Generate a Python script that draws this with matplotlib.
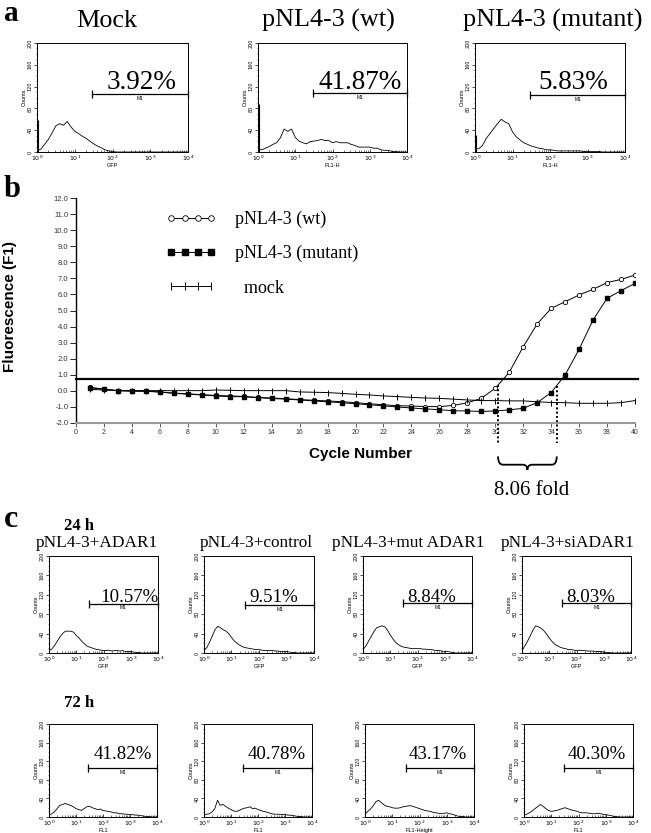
import numpy as np
import matplotlib
matplotlib.use("Agg")
import matplotlib.pyplot as plt
from matplotlib.path import Path
from matplotlib.patches import PathPatch
from matplotlib.ticker import LogLocator, MultipleLocator, NullFormatter, FixedLocator

# ---------------- DATA ----------------
# flow cytometry histograms: counts at channel positions 10^0 .. 10^4 (0.1 decade steps)
hist_log_channel = np.linspace(0, 4, 41)

a_mock = [3, 5, 14, 23, 35, 48, 52, 49, 56, 46, 38, 34, 29, 25, 20, 15, 11, 8, 4, 2, 1,
          0, 0, 0, 0, 0, 0, 0, 0, 0, 0, 0, 0, 0, 0, 0, 0, 0, 0, 0, 0]
a_wt = [5, 4, 7, 10, 14, 17, 26, 42, 38, 42, 27, 20, 17, 15, 19, 20, 21, 23, 21, 21, 17,
        19, 17, 17, 17, 14, 12, 9, 9, 9, 9, 7, 7, 4, 3, 3, 1, 1, 0, 0, 0]
a_mut = [6, 6, 12, 25, 34, 43, 52, 60, 55, 52, 37, 28, 22, 17, 14, 11, 9, 7, 6, 4, 4,
         3, 2, 2, 2, 2, 2, 2, 2, 1, 1, 1, 1, 1, 0, 0, 0, 0, 0, 0, 0]
c24_adar1 = [5, 8, 15, 24, 33, 40, 45, 45, 45, 43, 36, 31, 24, 19, 14, 12, 10, 8, 7, 6, 5,
             5, 6, 4, 5, 5, 4, 5, 3, 3, 3, 2, 1, 1, 0, 0, 0, 0, 0, 0, 0]
c24_control = [5, 11, 22, 35, 48, 55, 52, 48, 45, 40, 32, 25, 20, 16, 13, 11, 10, 9, 8, 7, 7,
               6, 5, 5, 5, 5, 4, 4, 3, 3, 3, 2, 1, 1, 0, 0, 0, 0, 0, 0, 0]
c24_mut = [7, 14, 24, 34, 44, 52, 54, 56, 54, 47, 37, 29, 22, 17, 14, 12, 11, 10, 9, 9, 9,
           9, 8, 8, 7, 7, 6, 5, 5, 4, 3, 3, 2, 1, 0, 0, 0, 0, 0, 0, 0]
c24_si = [5, 14, 24, 35, 47, 56, 54, 51, 46, 39, 31, 24, 18, 15, 12, 10, 9, 7, 7, 6, 5,
          6, 5, 5, 4, 4, 4, 3, 3, 3, 2, 1, 1, 0, 0, 0, 0, 0, 0, 0, 0]
c72_adar1 = [4, 7, 11, 18, 25, 27, 29, 27, 25, 22, 18, 16, 14, 18, 22, 23, 20, 18, 16, 17, 14,
             13, 12, 11, 9, 9, 7, 7, 6, 6, 5, 5, 4, 4, 3, 2, 1, 1, 0, 0, 0]
c72_control = [4, 6, 7, 11, 18, 36, 25, 27, 23, 19, 16, 13, 12, 14, 17, 19, 20, 22, 18, 19, 16,
               14, 12, 11, 9, 7, 6, 6, 6, 5, 6, 4, 4, 3, 2, 1, 1, 0, 0, 0, 0]
c72_mut = [6, 12, 17, 24, 33, 36, 31, 26, 23, 22, 20, 19, 19, 20, 22, 23, 24, 24, 22, 20, 18,
           16, 14, 13, 12, 10, 9, 8, 7, 8, 9, 7, 6, 4, 2, 1, 1, 0, 0, 0, 0]
c72_si = [4, 6, 9, 13, 18, 22, 27, 23, 18, 14, 12, 13, 14, 16, 18, 20, 18, 16, 14, 13, 11,
          9, 9, 9, 8, 7, 7, 8, 7, 6, 5, 4, 3, 1, 1, 0, 0, 0, 0, 0, 0]

# first-channel pile-up counts
a_spikes = [58, 88, 31]
c24_spikes = [47, 40, 61, 30]
c72_spikes = [61, 8, 38, 100]

# M1 gate: start channel (ends at 10^4) and drawn height
a_gate_start = [29, 30, 30]
a_gate_y = [107, 108, 105]
c24_gate_start = [29, 31, 30, 30]
c24_gate_y = [102, 99, 103, 103]
c72_gate_start = [28, 28, 31, 30]
c72_gate_y = [106, 106, 105, 106]

a_titles = ["Mock", "pNL4-3 (wt)", "pNL4-3 (mutant)"]
a_pct = ["3.92%", "41.87%", "5.83%"]
a_xlabels = ["GFP", "FL1-H", "FL1-H"]
c_titles = ["pNL4-3+ADAR1", "pNL4-3+control", "pNL4-3+mut ADAR1", "pNL4-3+siADAR1"]
c24_pct = ["10.57%", "9.51%", "8.84%", "8.03%"]
c72_pct = ["41.82%", "40.78%", "43.17%", "40.30%"]
c24_xlabels = ["GFP", "GFP", "GFP", "GFP"]
c72_xlabels = ["FL1", "FL1", "FL1-Height", "FL1"]

# real-time PCR amplification curves
cycles = list(range(1, 41))
pcr_wt = [0.20, 0.10, 0.00, -0.02, -0.03, -0.08, -0.15, -0.20, -0.25, -0.30,
          -0.33, -0.36, -0.42, -0.46, -0.50, -0.56, -0.60, -0.64, -0.69, -0.75,
          -0.82, -0.88, -0.94, -0.96, -0.99, -1.00, -0.92, -0.76, -0.48, 0.15,
          1.14, 2.74, 4.16, 5.13, 5.55, 5.97, 6.32, 6.74, 6.94, 7.21]
pcr_mut = [0.18, 0.08, 0.00, -0.03, -0.04, -0.09, -0.17, -0.22, -0.27, -0.33,
           -0.37, -0.38, -0.44, -0.49, -0.53, -0.58, -0.64, -0.70, -0.75, -0.82,
           -0.88, -0.95, -1.02, -1.08, -1.14, -1.19, -1.25, -1.27, -1.30, -1.27,
           -1.20, -1.10, -0.75, -0.12, 0.98, 2.58, 4.41, 5.76, 6.24, 6.69]
pcr_mock = [0.08, 0.04, 0.00, 0.00, 0.00, 0.00, 0.00, 0.00, 0.00, 0.04,
            0.02, 0.00, 0.00, 0.00, 0.00, -0.08, -0.10, -0.12, -0.17, -0.23,
            -0.27, -0.33, -0.37, -0.42, -0.46, -0.48, -0.53, -0.58, -0.62, -0.62,
            -0.64, -0.64, -0.69, -0.74, -0.75, -0.79, -0.79, -0.79, -0.75, -0.62]
threshold = 0.72
ct_wt, ct_mut = 30.2, 34.4
fold_text = "8.06 fold"
pcr_labels = ["pNL4-3 (wt)", "pNL4-3 (mutant)", "  mock"]

# ---------------- LAYOUT ----------------
W, H = 651, 833
fig = plt.figure(figsize=(W / 100, H / 100), dpi=100)
SERIF = "Liberation Serif"
SANS = "Liberation Sans"


def px_axes(x0, y0, x1, y1):
    return fig.add_axes([x0 / W, 1 - y1 / H, (x1 - x0) / W, (y1 - y0) / H])


def fig_text(x, y, s, **kw):
    fig.text(x / W, 1 - y / H, s, **kw)


def hist_panel(ax, counts, spike, gstart, gy, pct, pct_logx, pct_y, pct_fs, xlabel):
    ax.plot(10 ** hist_log_channel, counts, color="k", lw=0.6)
    ax.vlines(1.04, 0, spike, color="k", lw=0.8)
    ax.set_xscale("log")
    ax.set_xlim(1, 1e4)
    ax.set_ylim(0, 200)
    # M1 gate
    ax.plot([gstart, 1e4], [gy, gy], color="k", lw=0.9, marker="|", ms=6,
            mew=0.9, clip_on=False)
    ax.text(10 ** ((np.log10(gstart) + 4) / 2), gy - 4, "M1", ha="center",
            va="top", fontsize=3.5, family=SANS)
    ax.text(10 ** pct_logx, pct_y, pct, ha="center", va="baseline",
            fontsize=pct_fs, family=SERIF)
    ax.xaxis.set_major_locator(LogLocator(base=10, numticks=10))
    ax.xaxis.set_minor_locator(LogLocator(base=10, subs=np.arange(2, 10), numticks=10))
    ax.xaxis.set_minor_formatter(NullFormatter())
    ax.yaxis.set_major_locator(FixedLocator([0, 40, 80, 120, 160, 200]))
    ax.yaxis.set_minor_locator(MultipleLocator(10))
    ax.tick_params(axis="x", which="major", direction="in", length=2.5, width=0.5,
                   labelsize=4.5, pad=1)
    ax.tick_params(axis="x", which="minor", direction="in", length=1.3, width=0.4)
    ax.tick_params(axis="y", which="major", direction="out", length=2, width=0.5,
                   labelsize=3.5, pad=1)
    ax.tick_params(axis="y", which="minor", direction="out", length=1, width=0.4)
    for lab in ax.get_yticklabels():
        lab.set_rotation(90)
        lab.set_va("center")
    ax.set_xlabel(xlabel, fontsize=4, family=SANS, labelpad=0)
    ax.set_ylabel("Counts", fontsize=4, family=SANS, labelpad=1)
    for s in ax.spines.values():
        s.set_linewidth(0.7)


# ---------- panel a ----------
fig_text(4, 21, "a", fontsize=21, fontweight="bold", family=SERIF, va="baseline")
a_boxes = [(37, 43, 188, 152), (258, 43, 407, 152), (475, 43, 625, 152)]
a_title_x = [107, 328, 553]
a_pct_logx = [2.77, 2.75, 2.62]
a_data = [a_mock, a_wt, a_mut]
for i in range(3):
    ax = px_axes(*a_boxes[i])
    hist_panel(ax, a_data[i], a_spikes[i], a_gate_start[i], a_gate_y[i], a_pct[i],
               a_pct_logx[i], 115, 19.5, a_xlabels[i])
    fig_text(a_title_x[i], 27, a_titles[i], fontsize=18.8, family=SERIF,
             ha="center", va="baseline")

# ---------- panel b ----------
fig_text(4, 197, "b", fontsize=22, fontweight="bold", family=SERIF, va="baseline")
axb = px_axes(76, 198.3, 635, 422.7)
axb.set_xlim(0, 40)
axb.set_ylim(-2, 12)
axb.axhline(threshold, color="k", lw=1.6, xmax=1.005, clip_on=False)
lw_m = axb.plot(cycles, pcr_wt, color="k", lw=0.7, marker="o", ms=3.1,
                mfc="white", mec="k", mew=0.6, label=pcr_labels[0])[0]
lw_s = axb.plot(cycles, pcr_mut, color="k", lw=0.7, marker="s", ms=3.0,
                mfc="k", mec="k", label=pcr_labels[1])[0]
lw_k = axb.plot(cycles, pcr_mock, color="k", lw=0.7, marker="|", ms=4.0,
                mew=0.7, label=pcr_labels[2])[0]
# Ct dotted lines
for ct, series in ((ct_wt, pcr_wt), (ct_mut, pcr_mut)):
    ytop = min(np.interp(ct, cycles, series), threshold)
    axb.plot([ct, ct], [ytop, -3.27], color="k", lw=1.4, ls=(0, (1, 1.2)),
             clip_on=False)
# brace
yt, yb, ytip, d = -4.1, -4.62, -4.95, 0.35
xm = (ct_wt + ct_mut) / 2
verts = [(ct_wt, yt), (ct_wt, yb), (ct_wt + d, yb), (xm - d, yb), (xm, yb), (xm, ytip),
         (xm, yb), (xm + d, yb), (ct_mut - d, yb), (ct_mut, yb), (ct_mut, yt)]
codes = [Path.MOVETO, Path.CURVE3, Path.CURVE3, Path.LINETO, Path.CURVE3, Path.CURVE3,
         Path.CURVE3, Path.CURVE3, Path.LINETO, Path.CURVE3, Path.CURVE3]
axb.add_patch(PathPatch(Path(verts, codes), fill=False, lw=1.3, ec="k", clip_on=False))
axb.text(xm + 0.3, -6.2, fold_text, ha="center", va="center", fontsize=15, family=SERIF)

axb.spines["top"].set_visible(False)
axb.spines["right"].set_visible(False)
axb.spines["left"].set_linewidth(1.0)
axb.spines["bottom"].set_color("#9a9a9a")
axb.spines["bottom"].set_linewidth(1.5)
axb.xaxis.set_major_locator(MultipleLocator(2))
axb.yaxis.set_major_locator(MultipleLocator(1))
axb.yaxis.set_major_formatter(matplotlib.ticker.FormatStrFormatter("%.1f"))
axb.tick_params(axis="x", length=3, width=0.6, color="#444444", labelsize=5,
                labelcolor="#333333", pad=1.5)
axb.tick_params(axis="y", length=4, width=0.6, labelsize=5.5, labelcolor="#333333",
                pad=1.5)
for lab in axb.get_xticklabels() + axb.get_yticklabels():
    lab.set_family(SANS)
axb.legend(handles=[lw_m, lw_s, lw_k], loc="upper left", bbox_to_anchor=(0.145, 0.985),
           frameon=False, numpoints=4, handlelength=2.8, handletextpad=1.0,
           labelspacing=0.95, borderpad=0, markerscale=1.3,
           prop={"family": SERIF, "size": 13})
fig_text(10, 306, "Fluorescence (F1)", rotation=90, fontsize=11, fontweight="bold",
         family=SANS, ha="center", va="center")
fig_text(360, 454, "Cycle Number", fontsize=11, fontweight="bold", family=SANS,
         ha="center", va="center")

# ---------- panel c ----------
fig_text(4, 527, "c", fontsize=23, fontweight="bold", family=SERIF, va="baseline")
fig_text(64, 530, "24 h", fontsize=12, fontweight="bold", family=SERIF, va="baseline")
fig_text(64, 707, "72 h", fontsize=12, fontweight="bold", family=SERIF, va="baseline")
c_title_x = [97, 256, 408, 568]
for i in range(4):
    fig_text(c_title_x[i], 547, c_titles[i], fontsize=12.4, family=SERIF,
             ha="center", va="baseline")

c24_boxes = [(49, 556, 158, 653), (204, 556, 314, 653), (363, 556, 472, 653),
             (522, 556, 631, 653)]
c72_boxes = [(49, 724, 157, 817), (204, 724, 312, 817), (365, 724, 474, 817),
             (524, 724, 633, 817)]
c24_pct_logx = [2.96, 2.52, 2.50, 2.51]
c72_pct_logx = [2.74, 2.68, 2.68, 2.67]
c24_data = [c24_adar1, c24_control, c24_mut, c24_si]
c72_data = [c72_adar1, c72_control, c72_mut, c72_si]
for i in range(4):
    ax = px_axes(*c24_boxes[i])
    hist_panel(ax, c24_data[i], c24_spikes[i], c24_gate_start[i], c24_gate_y[i],
               c24_pct[i], c24_pct_logx[i], 105, 13.6, c24_xlabels[i])
    ax = px_axes(*c72_boxes[i])
    hist_panel(ax, c72_data[i], c72_spikes[i], c72_gate_start[i], c72_gate_y[i],
               c72_pct[i], c72_pct_logx[i], 125, 13.6, c72_xlabels[i])

fig.savefig("out.png", dpi=100)
